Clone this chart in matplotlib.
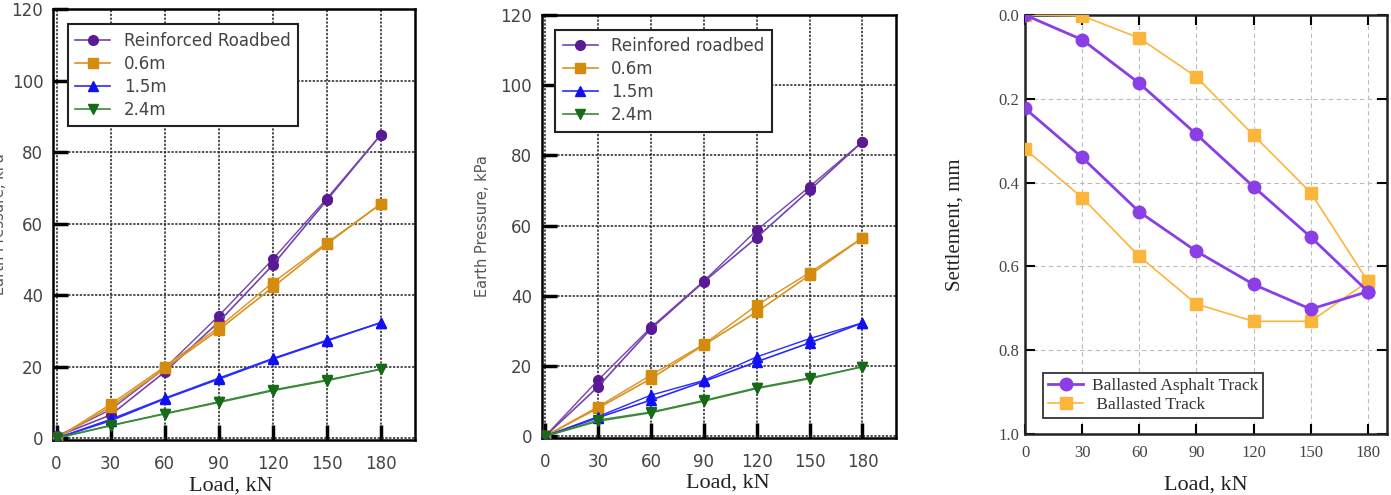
import matplotlib.pyplot as plt
import numpy as np

# load steps (kN)
loads = [0, 30, 60, 90, 120, 150, 180]

# left panel: earth pressure (kPa), loading / unloading
series_names_a = ['Reinforced Roadbed', '0.6m', '1.5m', '2.4m']
a_rr_up = [0.5, 6.5, 18.5, 32.5, 48.4, 66.5, 84.8]
a_rr_dn = [0.5, 8.0, 19.5, 34.2, 50.0, 67.0, 84.8]
a_06_up = [0, 8.8, 19.5, 30.3, 42.2, 54.3, 65.5]
a_06_dn = [0, 9.5, 20.0, 31.0, 43.5, 54.6, 65.5]
a_15_up = [0, 4.9, 11.0, 16.5, 22.1, 27.2, 32.3]
a_15_dn = [0, 5.3, 11.2, 16.8, 22.3, 27.4, 32.3]
a_24_up = [0, 3.5, 6.8, 10.0, 13.3, 16.1, 19.3]
a_24_dn = [0, 3.6, 6.9, 10.2, 13.5, 16.3, 19.3]

# middle panel
series_names_b = ['Reinfored roadbed', '0.6m', '1.5m', '2.4m']
b_rr_up = [0, 14.1, 30.6, 44.0, 56.6, 70.1, 83.9]
b_rr_dn = [0, 16.0, 31.0, 44.2, 58.7, 71.1, 83.9]
b_06_up = [0, 8.0, 16.4, 26.0, 35.4, 45.9, 56.5]
b_06_dn = [0, 8.4, 17.4, 26.2, 37.3, 46.6, 56.5]
b_15_up = [0, 5.3, 10.3, 15.6, 21.2, 26.6, 32.3]
b_15_dn = [0, 5.6, 11.7, 15.9, 22.6, 27.8, 32.3]
b_24_up = [0, 4.3, 6.7, 10.0, 13.6, 16.4, 19.8]
b_24_dn = [0, 4.6, 6.9, 10.2, 13.8, 16.6, 19.8]

# right panel: settlement (mm)
series_names_c = ['Ballasted Asphalt Track', ' Ballasted Track']
c_asp_up = [0.0, 0.059, 0.163, 0.285, 0.41, 0.53, 0.66]
c_asp_dn = [0.223, 0.34, 0.47, 0.564, 0.643, 0.702, 0.66]
c_bal_up = [0.0, 0.002, 0.055, 0.148, 0.287, 0.424, 0.636]
c_bal_dn = [0.32, 0.436, 0.576, 0.69, 0.731, 0.731, 0.636]

sans = 'DejaVu Sans'
serif = 'Liberation Serif'
tick_col = '#444444'

fig = plt.figure(figsize=(13.91, 4.95), dpi=100)
ax1 = fig.add_axes([0.0381, 0.1111, 0.2602, 0.8707])
ax2 = fig.add_axes([0.3894, 0.1152, 0.2547, 0.8545])
ax3 = fig.add_axes([0.7369, 0.1232, 0.2602, 0.8465])

styles = [
    dict(color='#7444ad', marker='o', mfc='#5a1a96', mec='#5a1a96', ms=7),
    dict(color='#d99320', marker='s', mfc='#d58c0e', mec='#d58c0e', ms=7),
    dict(color='#2a2aff', marker='^', mfc='#1010f0', mec='#1010f0', ms=6.5),
    dict(color='#3a8a3a', marker='v', mfc='#176a17', mec='#176a17', ms=6.5),
]


def earth_panel(ax, names, ups, dns, xl_x, yl_x, leg_xy):
    for name, up, dn, st in zip(names, ups, dns, styles):
        ax.plot(loads, dn, lw=1.0, zorder=3, **st)
        ax.plot(loads, up, lw=1.2, label=name, zorder=3, **st)
    ax.set_xlim(-2, 199)
    ax.set_ylim(-0.5, 120)
    ax.set_xticks(loads)
    ax.set_yticks(range(0, 121, 20))
    ax.grid(True, color='#222222', linestyle=(0, (1.5, 1)), lw=1.1)
    ax.tick_params(direction='in', length=11, width=2.5, color='black',
                   labelsize=12, labelcolor=tick_col, pad=11)
    ax.tick_params(axis='y', pad=7)
    for lab in ax.get_xticklabels() + ax.get_yticklabels():
        lab.set_family(sans)
    for sp in ax.spines.values():
        sp.set_linewidth(1.8)
    ax.set_xlabel('Load, kN', family=serif, fontsize=16, color='#222222')
    ax.xaxis.set_label_coords(xl_x, -0.085)
    ax.set_ylabel('Earth Pressure, kPa', family=sans, fontsize=10.5, color='#555555')
    ax.yaxis.set_label_coords(yl_x, 0.5)
    leg = ax.legend(loc='upper left', bbox_to_anchor=leg_xy, fancybox=False,
                    edgecolor='#222222', framealpha=1, handlelength=2.1,
                    labelspacing=0.3, borderpad=0.45, handletextpad=0.8,
                    borderaxespad=0, prop=dict(family=sans, size=12))
    leg.get_frame().set_linewidth(1.5)
    for t in leg.get_texts():
        t.set_color('#444444')


earth_panel(ax1, series_names_a, [a_rr_up, a_06_up, a_15_up, a_24_up],
            [a_rr_dn, a_06_dn, a_15_dn, a_24_dn], 0.49, -0.128, (0.041, 0.965))
earth_panel(ax2, series_names_b, [b_rr_up, b_06_up, b_15_up, b_24_up],
            [b_rr_dn, b_06_dn, b_15_dn, b_24_dn], 0.525, -0.146, (0.038, 0.965))

# right panel: settlement loops (loading then unloading)
loop_x = loads + loads[::-1]
asp = c_asp_up + c_asp_dn[::-1]
bal = c_bal_up + c_bal_dn[::-1]
ax3.plot(loop_x, asp, color='#8a3ee6', lw=2.0, marker='o', ms=9,
         mfc='#8a3ee6', mec='#8a3ee6', label=series_names_c[0], zorder=4)
ax3.plot(loop_x, bal, color='#fbb53b', lw=1.2, marker='s', ms=9,
         mfc='#fbb53b', mec='#fbb53b', label=series_names_c[1], zorder=3)
ax3.set_xlim(0, 190)
ax3.set_ylim(1.0, 0.0)
ax3.set_xticks(loads)
ax3.set_yticks(np.arange(0, 1.01, 0.2))
ax3.set_yticklabels(['0.0', '0.2', '0.4', '0.6', '0.8', '1.0'])
ax3.grid(True, color='#bbbbbb', linestyle=(0, (4, 3)), lw=0.8)
ax3.tick_params(direction='in', length=7, width=1.5, top=True, right=True,
                labelsize=12, labelcolor=tick_col, pad=8)
ax3.tick_params(axis='y', pad=4)
for lab in ax3.get_xticklabels() + ax3.get_yticklabels():
    lab.set_family(serif)
for sp in ax3.spines.values():
    sp.set_linewidth(1.8)
    sp.set_color('#222222')
ax3.set_xlabel('Load, kN', family=serif, fontsize=16, color='#222222')
ax3.xaxis.set_label_coords(0.5, -0.1)
ax3.set_ylabel('Settlement, mm', family=serif, fontsize=15, color='#222222')
ax3.yaxis.set_label_coords(-0.168, 0.5)
leg3 = ax3.legend(loc='lower left', bbox_to_anchor=(0.05, 0.038), fancybox=False,
                  edgecolor='#333333', framealpha=1, handlelength=2.0,
                  labelspacing=0.15, borderpad=0.3, handletextpad=0.5,
                  borderaxespad=0, prop=dict(family=serif, size=12.5))
leg3.get_frame().set_linewidth(1.3)
for t in leg3.get_texts():
    t.set_color('#333333')

fig.savefig('out.png', dpi=100)
